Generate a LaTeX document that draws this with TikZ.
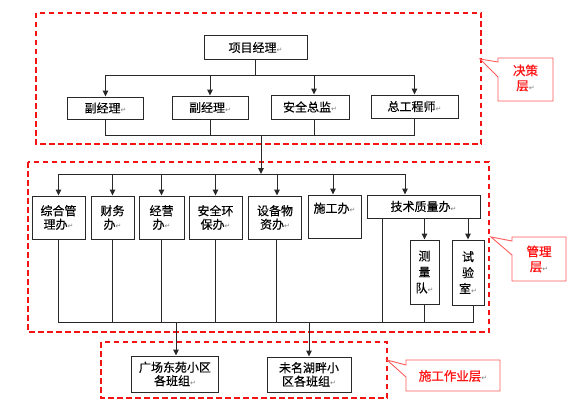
\documentclass[tikz,border=0pt]{standalone}
\usepackage{fontspec}
\setmainfont{Noto Sans CJK SC}
\newfontfamily\boxfont{Noto Sans CJK SC}[FakeBold=0.3]
\newfontfamily\redfont{Noto Sans CJK SC}[FakeBold=1]
\newfontfamily\symf{DejaVu Sans}
\usetikzlibrary{arrows.meta}
\definecolor{boxline}{RGB}{40,40,40}
\definecolor{layerred}{RGB}{245,20,20}
\definecolor{calloutred}{RGB}{255,90,90}
\definecolor{callouttext}{RGB}{255,20,20}
\newcommand{\pmark}{{\symf\fontsize{7}{8}\selectfont\textcolor{gray}{↵}}}
\tikzset{
  box/.style={draw=boxline, line width=1pt, inner sep=0pt, align=center,
    font=\boxfont\fontsize{12}{13.5}\selectfont},
  vbox/.style={box, font=\boxfont\fontsize{12}{16}\selectfont},
  conn/.style={draw=boxline, line width=1pt},
  arr/.style={conn, -{Triangle[length=6pt,width=5.5pt]}},
  layer/.style={draw=layerred, line width=1.7pt, dash pattern=on 5.5pt off 3.5pt},
  callout/.style={draw=calloutred, line width=0.9pt, fill=white},
  callouttxt/.style={text=callouttext, align=center, inner sep=0pt,
    font=\redfont\fontsize{12.5}{15}\selectfont}
}
\begin{document}
\begin{tikzpicture}[x=1pt,y=-1pt]
\useasboundingbox (0,0) rectangle (580,412);

% layers
\draw[layer] (36,13) rectangle (481,144);
\draw[layer] (28,162) rectangle (489,332);
\draw[layer] (101,342) rectangle (387,398);

% decision layer
\node[box, minimum width=103pt, minimum height=23pt] (pm) at (255.5,47.5) {项目经理\pmark};
\node[box, minimum width=76pt, minimum height=22pt] (d1) at (105.5,108) {副经理\pmark};
\node[box, minimum width=76pt, minimum height=23pt] (d2) at (210,107.5) {副经理\pmark};
\node[box, minimum width=78pt, minimum height=24pt] (d3) at (310,107) {安全总监\pmark};
\node[box, minimum width=87pt, minimum height=23pt] (d4) at (414.5,106.5) {总工程师\pmark};

\coordinate (bus1) at (0,75);
\coordinate (bus2) at (0,135);
\draw[conn] (pm.south) -- (pm.south |- bus1);
\draw[conn] (d1.north |- bus1) -- (d4.north |- bus1);
\draw[arr] (d1.north |- bus1) -- (d1.north);
\draw[arr] (d2.north |- bus1) -- (d2.north);
\draw[arr] ([xshift=4pt]d3.north |- bus1) -- ([xshift=4pt]d3.north);
\draw[arr] (d4.north |- bus1) -- (d4.north);
\draw[conn] (d1.south) |- (d4.south |- bus2) -- (d4.south);
\draw[conn] (d2.south) -- (d2.south |- bus2);
\draw[conn] ([xshift=4pt]d3.south) -- ([xshift=4pt]d3.south |- bus2);

% management layer
\node[box, minimum width=53pt, minimum height=43pt] (m1) at (58.5,217.5) {综合管\\理办\pmark};
\node[box, minimum width=43pt, minimum height=43pt] (m2) at (112.5,217.5) {财务\\办\pmark};
\node[box, minimum width=45pt, minimum height=43pt] (m3) at (161.5,217.5) {经营\\办\pmark};
\node[box, minimum width=53pt, minimum height=43pt] (m4) at (215.5,217.5) {安全环\\保办\pmark};
\node[box, minimum width=53pt, minimum height=43pt] (m5) at (275,217.5) {设备物\\资办\pmark};
\node[box, minimum width=53pt, minimum height=43pt] (m6) at (334.5,216.5) {施工办\pmark\\\strut};
\node[box, minimum width=113pt, minimum height=23pt] (m7) at (423.5,206.5) {技术质量办\pmark};
\node[vbox, minimum width=29pt, minimum height=64pt] (s1) at (424.5,272) {测\\量\\队\pmark};
\node[vbox, minimum width=32pt, minimum height=65pt] (s2) at (468,272.5) {试\\验\\室\pmark};

\coordinate (j1) at (261,135);
\coordinate (j2) at (261,174);
\coordinate (t7) at (405,174);
\coordinate (bus3) at (0,322);
\coordinate (t8) at (382,218);
\coordinate (t9) at (473,305);
\draw[arr] (j1) -- (j2);
\draw[conn] (m1.north |- j2) -- (t7);
\draw[arr] (m1.north |- j2) -- (m1.north);
\draw[arr] (m2.north |- j2) -- (m2.north);
\draw[arr] (m3.north |- j2) -- (m3.north);
\draw[arr] (m4.north |- j2) -- (m4.north);
\draw[arr] ([xshift=2pt]m5.north |- j2) -- ([xshift=2pt]m5.north);
\draw[arr] ([xshift=-1.5pt]m6.north |- j2) -- ([xshift=-1.5pt]m6.north);
\draw[arr] (t7) -- (t7 |- m7.north);
\draw[arr] (s1.north |- m7.south) -- (s1.north);
\draw[arr] (s2.north |- m7.south) -- (s2.north);

\draw[conn] (m1.south) |- (t9 |- bus3) -- (t9);
\draw[conn] (m2.south) -- (m2.south |- bus3);
\draw[conn] (m3.south) -- (m3.south |- bus3);
\draw[conn] (m4.south) -- (m4.south |- bus3);
\draw[conn] ([xshift=1pt]m5.south) -- ([xshift=1pt]m5.south |- bus3);
\draw[conn] (t8) -- (t8 |- bus3);
\draw[conn] (s1.south) -- (s1.south |- bus3);

% construction layer
\node[box, minimum width=87pt, minimum height=36pt] (b1) at (175,374) {广场东苑小区\\各班组\pmark};
\node[box, minimum width=84pt, minimum height=35pt] (b2) at (309,374.5) {未名湖畔小\\区各班组\pmark};
\draw[arr] ([xshift=1pt]b1.north |- bus3) -- ([xshift=1pt]b1.north);
\draw[arr] (b2.north |- bus3) -- (b2.north);

% callouts
\draw[callout] (480,59) -- (498,62) -- (498,58) -- (553,58) -- (553,101) -- (498,101) -- (498,77) -- cycle;
\node[callouttxt] (c1) at (525.5,78) {决策\\层\pmark};
\draw[callout] (491,237) -- (512,241) -- (512,237) -- (566,237) -- (566,281) -- (512,281) -- (512,255) -- cycle;
\node[callouttxt] (c2) at (539,259) {管理\\层\pmark};
\draw[callout] (387,360) -- (406,365) -- (406,360) -- (500,360) -- (500,391) -- (406,391) -- (406,377) -- cycle;
\node[callouttxt] (c3) at (453,376) {施工作业层\pmark};
\end{tikzpicture}
\end{document}
